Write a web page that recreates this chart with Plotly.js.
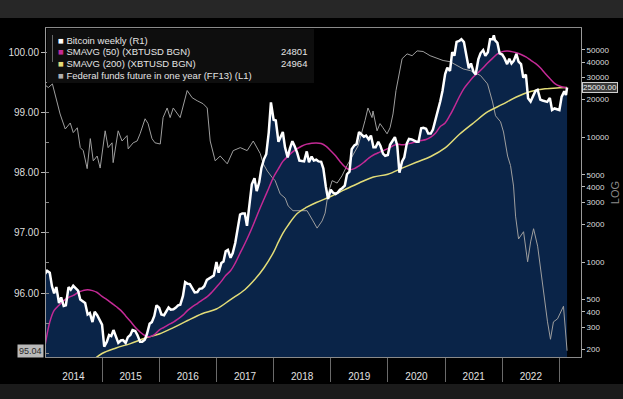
<!DOCTYPE html>
<html><head><meta charset="utf-8">
<script src="https://cdn.plot.ly/plotly-3.0.1.min.js"></script>
<style>html,body{margin:0;padding:0;background:#000;}#chart{width:623px;height:399px;}</style>
</head><body><div id="chart"></div>
<script>
// ---------------- data ----------------
const btcDates = [
'2014-01-01','2014-01-15','2014-02-01','2014-02-15','2014-03-01','2014-03-15','2014-04-01','2014-04-15','2014-05-01','2014-05-15','2014-06-01','2014-06-15','2014-07-01','2014-07-15','2014-08-01','2014-08-15','2014-09-01','2014-09-15','2014-10-01','2014-10-15','2014-11-01','2014-11-15','2014-12-01','2014-12-15',
'2015-01-01','2015-01-15','2015-02-01','2015-02-15','2015-03-01','2015-03-15','2015-04-01','2015-04-15','2015-05-01','2015-05-15','2015-06-01','2015-06-15','2015-07-01','2015-07-15','2015-08-01','2015-08-15','2015-09-01','2015-09-15','2015-10-01','2015-10-15','2015-11-01','2015-11-15','2015-12-01','2015-12-15',
'2016-01-01','2016-01-15','2016-02-01','2016-02-15','2016-03-01','2016-03-15','2016-04-01','2016-04-15','2016-05-01','2016-05-15','2016-06-01','2016-06-15','2016-07-01','2016-07-15','2016-08-01','2016-08-15','2016-09-01','2016-09-15','2016-10-01','2016-10-15','2016-11-01','2016-11-15','2016-12-01','2016-12-15',
'2017-01-01','2017-01-15','2017-02-01','2017-02-15','2017-03-01','2017-03-15','2017-04-01','2017-04-15','2017-05-01','2017-05-15','2017-06-01','2017-06-15','2017-07-01','2017-07-15','2017-08-01','2017-08-15','2017-09-01','2017-09-15','2017-10-01','2017-10-15','2017-11-01','2017-11-15','2017-12-01','2017-12-15',
'2018-01-01','2018-01-15','2018-02-01','2018-02-15','2018-03-01','2018-03-15','2018-04-01','2018-04-15','2018-05-01','2018-05-15','2018-06-01','2018-06-15','2018-07-01','2018-07-15','2018-08-01','2018-08-15','2018-09-01','2018-09-15','2018-10-01','2018-10-15','2018-11-01','2018-11-15','2018-12-01','2018-12-15',
'2019-01-01','2019-01-15','2019-02-01','2019-02-15','2019-03-01','2019-03-15','2019-04-01','2019-04-15','2019-05-01','2019-05-15','2019-06-01','2019-06-15','2019-07-01','2019-07-15','2019-08-01','2019-08-15','2019-09-01','2019-09-15','2019-10-01','2019-10-15','2019-11-01','2019-11-15','2019-12-01','2019-12-15',
'2020-01-01','2020-01-15','2020-02-01','2020-02-15','2020-03-01','2020-03-15','2020-04-01','2020-04-15','2020-05-01','2020-05-15','2020-06-01','2020-06-15','2020-07-01','2020-07-15','2020-08-01','2020-08-15','2020-09-01','2020-09-15','2020-10-01','2020-10-15','2020-11-01','2020-11-15','2020-12-01','2020-12-15',
'2021-01-01','2021-01-15','2021-02-01','2021-02-15','2021-03-01','2021-03-15','2021-04-01','2021-04-15','2021-05-01','2021-05-15','2021-06-01','2021-06-15','2021-07-01','2021-07-15','2021-08-01','2021-08-15','2021-09-01','2021-09-15','2021-10-01','2021-10-15','2021-11-01','2021-11-08','2021-11-15','2021-12-01','2021-12-15',
'2022-01-01','2022-01-15','2022-02-01','2022-02-15','2022-03-01','2022-03-15','2022-04-01','2022-04-15','2022-05-01','2022-05-15','2022-06-01','2022-06-15','2022-07-01','2022-07-15','2022-08-01','2022-08-15','2022-09-01','2022-09-15','2022-10-01','2022-10-15','2022-11-01','2022-11-15','2022-12-01','2022-12-15',
'2023-01-01','2023-01-15','2023-02-01','2023-02-12','2023-02-19'];
const btcValues = [
800,850,820,640,560,630,470,520,445,450,630,600,645,620,590,500,480,470,380,390,330,400,375,345,
315,210,230,260,255,285,245,225,235,237,225,250,260,285,280,260,230,230,238,265,320,330,370,450,
430,380,375,405,432,415,418,430,450,455,535,690,670,665,610,570,575,610,615,640,720,740,755,780,
1000,820,980,1010,1220,1250,1080,1180,1420,1750,2400,2450,2450,1950,2850,4200,4700,3700,4350,5650,6700,7300,10900,19000,
13800,13600,9200,10200,11000,8300,6900,8100,9300,8500,7500,6500,6400,6400,7700,6300,7000,6500,6600,6400,6350,5600,4000,3200,
3800,3600,3500,3600,3800,3900,4100,5050,5300,8000,8600,8800,11000,10600,10100,10300,9600,10300,8300,8300,9200,8500,7400,7100,
7200,8700,9400,10000,8600,5200,6400,6900,8900,9700,9600,9400,9200,9200,11800,11900,11700,10700,10700,11500,13800,16000,19400,23500,
32000,36000,34000,48000,45000,58000,59000,61000,57800,46500,35700,39000,33500,31800,42000,47000,49900,45000,48000,61000,61000,65500,60000,57000,47000,
46000,43000,38500,42500,39000,40900,46500,40400,38500,30000,31800,20500,19300,21000,23500,24000,20000,19700,19400,19200,20600,16500,17000,16700,
16500,21000,23300,21800,25000];

const sma50Dates = [
'2014-01-01','2014-02-01','2014-03-01','2014-04-01','2014-05-01','2014-06-01','2014-07-01','2014-08-01','2014-09-01','2014-10-01','2014-11-01','2014-12-01',
'2015-01-01','2015-02-01','2015-03-01','2015-04-01','2015-05-01','2015-06-01','2015-07-01','2015-08-01','2015-09-01','2015-10-01','2015-11-01','2015-12-01',
'2016-01-01','2016-02-01','2016-03-01','2016-04-01','2016-05-01','2016-06-01','2016-07-01','2016-08-01','2016-09-01','2016-10-01','2016-11-01','2016-12-01',
'2017-01-01','2017-02-01','2017-03-01','2017-04-01','2017-05-01','2017-06-01','2017-07-01','2017-08-01','2017-09-01','2017-10-01','2017-11-01','2017-12-01',
'2018-01-01','2018-02-01','2018-03-01','2018-04-01','2018-05-01','2018-06-01','2018-07-01','2018-08-01','2018-09-01','2018-10-01','2018-11-01','2018-12-01',
'2019-01-01','2019-02-01','2019-03-01','2019-04-01','2019-05-01','2019-06-01','2019-07-01','2019-08-01','2019-09-01','2019-10-01','2019-11-01','2019-12-01',
'2020-01-01','2020-02-01','2020-03-01','2020-04-01','2020-05-01','2020-06-01','2020-07-01','2020-08-01','2020-09-01','2020-10-01','2020-11-01','2020-12-01',
'2021-01-01','2021-02-01','2021-03-01','2021-04-01','2021-05-01','2021-06-01','2021-07-01','2021-08-01','2021-09-01','2021-10-01','2021-11-01','2021-12-01',
'2022-01-01','2022-02-01','2022-03-01','2022-04-01','2022-05-01','2022-06-01','2022-07-01','2022-08-01','2022-09-01','2022-10-01','2022-11-01','2022-12-01',
'2023-01-01','2023-02-19'];
const sma50Values = [
210,330,410,450,490,520,540,570,590,600,590,570,
530,500,470,440,410,370,335,300,275,258,252,262,
285,300,315,330,350,375,410,440,465,495,525,570,
630,700,780,850,980,1180,1400,1700,2100,2600,3200,3900,
4800,5600,6400,7000,7600,8100,8500,8800,8950,9000,8900,8500,
7800,7100,6400,5800,5500,5600,5900,6300,6800,7200,7500,7800,
8100,8500,8800,8700,8800,9000,9200,9400,9600,10000,10800,12200,
13000,15000,17500,21000,24500,27500,30500,33000,36000,39500,43000,46500,
48500,49000,48500,47500,46000,44000,41500,39000,36000,32500,29500,27000,
25700,24801];

const sma200Dates = ['2014-10-01','2015-01-01','2015-04-01','2015-07-01','2015-10-01','2016-01-01','2016-04-01','2016-07-01','2016-10-01',
'2017-01-01','2017-04-01','2017-07-01','2017-09-01','2017-11-01','2018-01-01','2018-02-01','2018-03-01','2018-04-01','2018-06-01','2018-08-01','2018-10-01',
'2019-01-01','2019-04-01','2019-07-01','2019-10-01','2020-01-01','2020-04-01','2020-07-01','2020-10-01',
'2021-01-01','2021-04-01','2021-07-01','2021-10-01','2022-01-01','2022-04-01','2022-07-01','2022-10-01','2023-01-01','2023-02-19'];
const sma200Values = [150,185,205,222,245,265,298,340,385,
420,500,600,720,900,1200,1450,1700,1950,2450,2750,3000,
3350,3800,4300,4800,5050,5650,6300,7000,
8200,10500,13000,16000,18300,21000,23200,24400,24850,24964];

const ffDates = ['2014-01-08','2014-01-23','2014-02-18','2014-04-08','2014-05-11','2014-06-12','2014-07-01','2014-07-27','2014-08-15','2014-09-03','2014-09-28','2014-10-18','2014-11-06','2014-12-01','2014-12-20',
'2015-01-21','2015-02-09','2015-03-06','2015-03-13','2015-04-14','2015-05-09','2015-06-10','2015-06-17','2015-07-19','2015-08-13','2015-09-01','2015-10-03','2015-10-22','2015-11-16','2015-12-05',
'2016-01-08','2016-01-26','2016-02-21','2016-03-11','2016-03-31','2016-04-25','2016-05-14','2016-06-28','2016-07-30','2016-08-31','2016-10-08','2016-11-03','2016-11-22','2016-12-24',
'2017-01-25','2017-03-11','2017-04-18','2017-06-02','2017-07-16','2017-08-24','2017-09-19','2017-10-08','2017-10-27','2017-11-22','2017-12-24',
'2018-01-11','2018-02-12','2018-03-16','2018-04-04','2018-05-05','2018-06-19','2018-08-03','2018-09-10','2018-10-06','2018-11-07','2018-11-26','2018-12-15',
'2019-01-10','2019-02-11','2019-03-14','2019-04-15','2019-05-17','2019-06-25','2019-08-08','2019-08-27','2019-09-22','2019-09-28','2019-10-24','2019-11-12','2019-12-01','2019-12-27',
'2020-01-15','2020-02-03','2020-02-22','2020-03-06','2020-04-01','2020-05-03','2020-06-04','2020-07-06','2020-08-13','2020-09-27','2020-11-11','2020-12-19',
'2021-02-02','2021-03-18','2021-04-26','2021-06-13','2021-08-15','2021-09-29','2021-10-31','2021-11-19','2021-12-21',
'2022-01-09','2022-02-04','2022-02-23','2022-03-14','2022-03-27','2022-04-15','2022-05-17','2022-06-12','2022-07-01','2022-07-20','2022-08-15','2022-09-02','2022-09-22','2022-10-17','2022-11-05','2022-11-24','2022-12-20',
'2023-01-08','2023-01-27','2023-02-19'];
const ffValues = [99.45,99.42,99.48,98.98,98.73,98.83,98.67,98.75,98.42,98.37,98.07,98.57,98.20,98.28,98.08,
98.70,98.42,98.50,98.17,98.70,98.53,98.62,98.40,98.50,98.53,98.65,98.90,98.82,98.57,98.50,
98.48,98.92,99.08,98.92,99.08,98.98,98.92,99.37,99.25,99.20,99.15,99.08,98.53,98.20,
98.28,98.15,98.37,98.42,98.37,98.53,98.42,98.32,98.15,98.03,97.92,
97.87,97.65,97.58,97.45,97.37,97.37,97.37,97.20,97.08,97.20,97.33,97.65,
97.87,97.83,97.95,98.12,98.28,98.45,98.87,99.08,98.92,99.03,98.70,98.82,98.75,98.65,
98.75,98.98,99.37,99.57,99.90,99.98,99.95,100.03,100.02,99.95,99.90,99.87,
99.85,99.78,99.73,99.70,99.62,99.48,99.18,98.95,98.85,
98.68,98.28,98.12,97.78,97.28,96.90,97.02,96.52,96.85,97.07,96.78,96.40,95.95,95.52,95.23,95.52,95.57,
95.68,95.78,95.04];

const leftTicks = [96, 97, 98, 99, 100];
const rightTicks = [200, 300, 400, 500, 1000, 2000, 3000, 4000, 5000, 10000, 20000, 30000, 40000, 50000];
const legendNames = ['Bitcoin weekly (R1)', 'SMAVG (50) (XBTUSD BGN)', 'SMAVG (200) (XBTUSD BGN)', 'Federal funds future in one year (FF13) (L1)'];

// ---------------- styles ----------------
const FONT = 'Liberation Sans, Arial, sans-serif';
const C_BTC = '#ffffff', C_AREA = '#0a2448', C_50 = '#c42a96', C_200 = '#e2dc78', C_FF = '#9e9e9e';
const W = 623, H = 399, ML = 46, MR = 42, MT = 28, MB = 42;
const PW = W - ML - MR, PH = H - MT - MB;
const pxX = v => (v - ML) / PW;
const pxY = v => (H - MB - v) / PH;
const logRange = [2.239, 4.875];
const ffRange = [94.935, 100.411];

const traces = [
  {x: btcDates, y: btcValues, yaxis: 'y', type: 'scatter', mode: 'lines', fill: 'tozeroy',
   fillcolor: C_AREA, line: {width: 0, color: C_AREA}, hoverinfo: 'skip', showlegend: false},
  {x: ffDates, y: ffValues, yaxis: 'y2', type: 'scatter', mode: 'lines',
   line: {width: 1, color: C_FF}, showlegend: false},
  {x: sma200Dates, y: sma200Values, yaxis: 'y3', type: 'scatter', mode: 'lines',
   line: {width: 1.5, color: C_200, shape: 'spline'}, showlegend: false},
  {x: sma50Dates, y: sma50Values, yaxis: 'y3', type: 'scatter', mode: 'lines',
   line: {width: 1.5, color: C_50, shape: 'spline'}, showlegend: false},
  {x: btcDates, y: btcValues, yaxis: 'y3', type: 'scatter', mode: 'lines',
   line: {width: 2.5, color: C_BTC}, showlegend: false}
];

const lastBtc = btcValues[btcValues.length - 1];
const lastFF = ffValues[ffValues.length - 1];
const last50 = Math.round(sma50Values[sma50Values.length - 1]);
const last200 = Math.round(sma200Values[sma200Values.length - 1]);

const legendColors = [C_BTC, C_50, C_200, '#b0b0b0'];
const legendVals = ['', String(last50), String(last200), ''];
const rowsY = [40, 51.5, 63, 75];
const annotations = [];
legendNames.forEach((n, i) => {
  annotations.push({xref: 'paper', yref: 'paper', x: pxX(56), y: pxY(rowsY[i]), xanchor: 'left', yanchor: 'middle',
    showarrow: false, text: '<span style="color:' + legendColors[i] + '">\u25A0</span> ' + n,
    font: {family: FONT, size: 9.5, color: '#e4e4e4'}});
  if (legendVals[i]) annotations.push({xref: 'paper', yref: 'paper', x: pxX(309), y: pxY(rowsY[i]), xanchor: 'right', yanchor: 'middle',
    showarrow: false, text: legendVals[i], font: {family: FONT, size: 9.5, color: '#e4e4e4'}});
});
annotations.push({xref: 'paper', yref: 'y2', x: pxX(44), y: lastFF, xanchor: 'right', yanchor: 'middle', showarrow: false,
  text: lastFF.toFixed(2), bgcolor: '#b9b9b9', borderpad: 1, font: {family: FONT, size: 9, color: '#2a2a2a'}});
annotations.push({xref: 'paper', yref: 'y', x: pxX(582), y: Math.log10(lastBtc), xanchor: 'left', yanchor: 'middle', showarrow: false,
  text: lastBtc.toFixed(2), bgcolor: '#3a3a3a', bordercolor: '#d0d0d0', borderwidth: 1, borderpad: 0,
  font: {family: FONT, size: 8, color: '#eeeeee'}});

const shapes = [
  {type: 'rect', xref: 'paper', yref: 'paper', x0: pxX(0), x1: pxX(W), y0: pxY(0), y1: pxY(18), fillcolor: '#272727', line: {width: 0}, layer: 'above'},
  {type: 'rect', xref: 'paper', yref: 'paper', x0: pxX(0), x1: pxX(W), y0: pxY(384), y1: pxY(H), fillcolor: '#1b1b1b', line: {width: 0}, layer: 'above'},
  {type: 'rect', xref: 'paper', yref: 'paper', x0: pxX(47), x1: pxX(314), y0: pxY(83), y1: pxY(29), fillcolor: '#0e0e0e', line: {width: 0}, layer: 'above'},
  {type: 'line', xref: 'paper', yref: 'paper', x0: pxX(52.5), x1: pxX(52.5), y0: pxY(35), y1: pxY(62), line: {width: 1, color: '#666'}, layer: 'above'},
  {type: 'line', xref: 'paper', yref: 'y', x0: 0, x1: 1, y0: Math.log10(lastBtc), y1: Math.log10(lastBtc), line: {width: 1, color: '#6e6e6e'}, layer: 'above'}
];

const layout = {
  width: W, height: H,
  margin: {l: ML, r: MR, t: MT, b: MB, pad: 0},
  paper_bgcolor: '#000', plot_bgcolor: '#000',
  showlegend: false,
  font: {family: FONT, color: '#e0e0e0'},
  xaxis: {type: 'date', range: ['2014-01-08', '2023-05-19'], dtick: 'M12', tick0: '2014-01-01',
    ticklabelmode: 'period', tickformat: '%Y', ticks: 'outside', ticklen: 24, tickwidth: 1, tickcolor: '#6a6a6a',
    ticklabelstandoff: -14,
    showline: true, linecolor: '#8a8a8a', linewidth: 1, mirror: true, showgrid: false, zeroline: false,
    tickfont: {family: FONT, size: 10, color: '#e2e2e2'}},
  yaxis: {type: 'log', side: 'right', range: logRange, tickmode: 'array', tickvals: rightTicks,
    ticktext: rightTicks.map(String), ticks: 'outside', ticklen: 3, tickcolor: '#bbbbbb',
    showline: true, linecolor: '#9a9a9a', linewidth: 1, showgrid: false, zeroline: false,
    tickfont: {family: FONT, size: 8, color: '#dedede'},
    title: {text: 'LOG', font: {family: FONT, size: 11, color: '#8c8c8c'}, standoff: 2}},
  yaxis2: {overlaying: 'y', side: 'left', range: ffRange, tickmode: 'array', tickvals: leftTicks,
    tickformat: '.2f', ticks: 'outside', ticklen: 4, tickcolor: '#bbbbbb',
    showline: true, linecolor: '#9a9a9a', linewidth: 1, showgrid: false, zeroline: false,
    tickfont: {family: FONT, size: 10, color: '#dedede'},
    minor: {dtick: 0.5, tick0: 95.5, ticks: 'inside', ticklen: 3, tickcolor: '#888888', showgrid: false}},
  yaxis3: {overlaying: 'y', side: 'right', type: 'log', range: logRange, visible: false},
  shapes: shapes,
  annotations: annotations
};

Plotly.newPlot('chart', traces, layout, {displayModeBar: false, staticPlot: true});
</script>
</body></html>
